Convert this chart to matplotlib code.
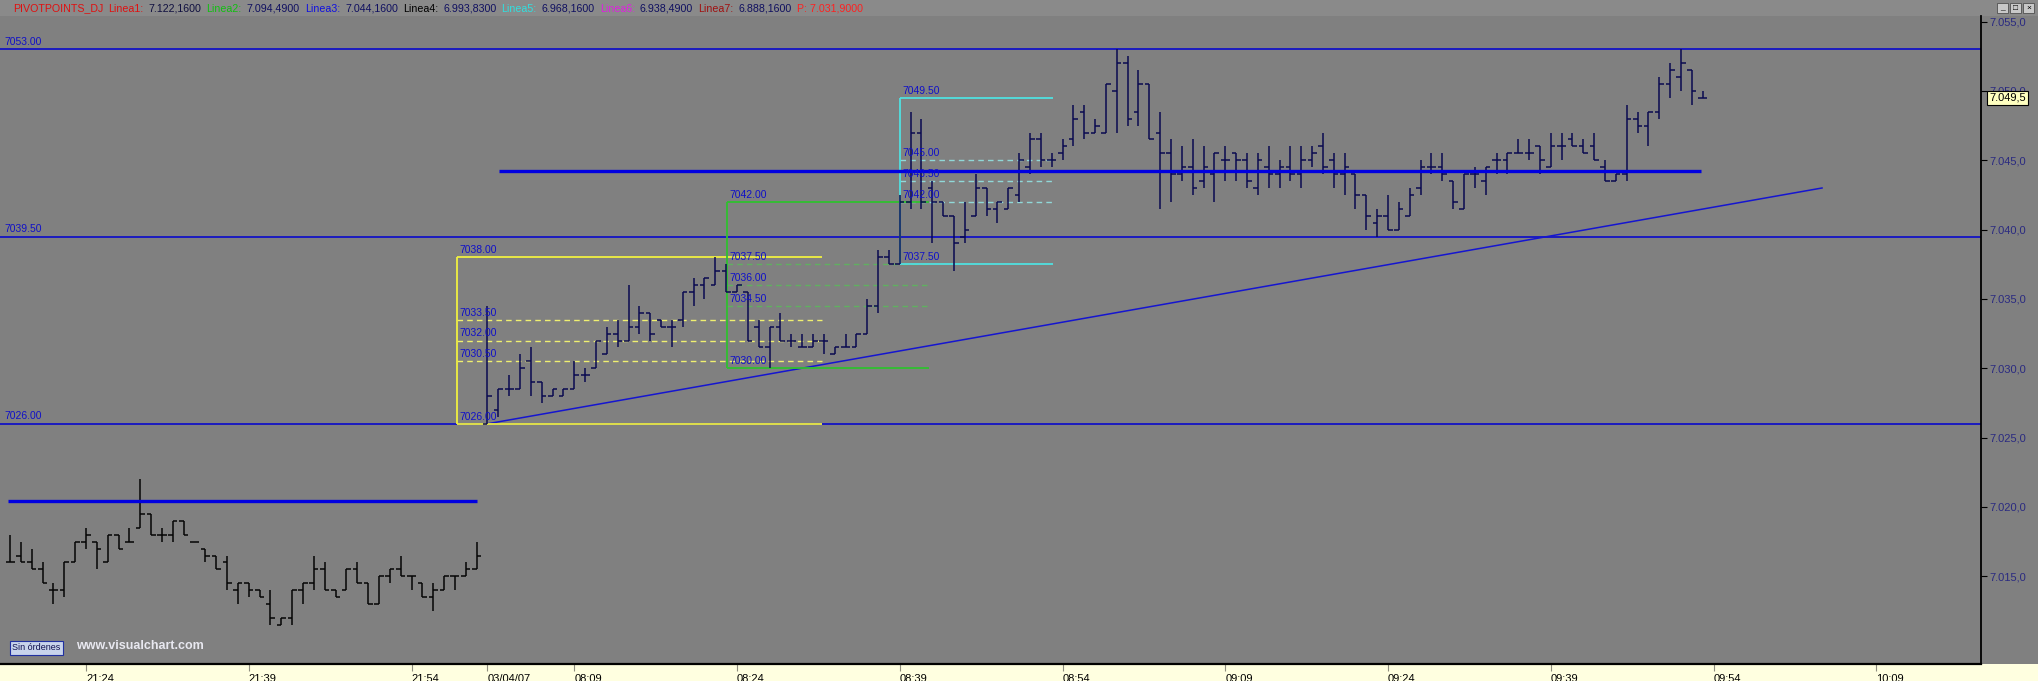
import matplotlib
matplotlib.use("Agg")
import matplotlib.pyplot as plt
from matplotlib.patches import Rectangle

plt.rcParams['font.family'] = ['Liberation Sans', 'DejaVu Sans']

W, H = 2038, 681

# one-minute OHLC bars, first bar sits at index -7 (21:17)
first_bar = -7
session_start = 37  # first bar of 03/04/07

opens = [7016, 7016.5, 7016, 7015.5, 7014, 7014, 7016, 7017.5, 7017.5, 7016,
         7018, 7017.5, 7018.5, 7019.5, 7018, 7018, 7019, 7017.5, 7017, 7016.5,
         7016, 7014, 7014.5, 7014, 7013, 7011.5, 7012, 7014, 7014.5, 7015.5,
         7014, 7014, 7015.5, 7014.5, 7013, 7015, 7015.5, 7015, 7014.5, 7013.5,
         7014, 7015, 7015, 7015.5,
         7026, 7027, 7028.5, 7028.5, 7030.5, 7029, 7028, 7028, 7028.5, 7029.5,
         7030, 7031, 7032.5, 7032, 7033, 7034, 7033.5, 7033, 7033.5, 7035.5,
         7036, 7036, 7037, 7035.5, 7035.5, 7033, 7031.5, 7033, 7032, 7031.5,
         7031.5, 7032, 7031, 7031.5, 7031.5, 7032.5, 7034.5, 7038, 7037.5, 7042,
         7047, 7043, 7042, 7041, 7039.5, 7041, 7043, 7041.5, 7041.5, 7042.5,
         7044.5, 7046.5, 7045, 7045.5, 7046.5, 7048.5, 7047, 7047, 7050, 7052,
         7048.5, 7050.5, 7047, 7045.5, 7044, 7044.5, 7043.5, 7044, 7045, 7045.5,
         7045, 7043, 7044.5, 7044, 7044.5, 7044, 7045, 7046, 7045, 7044,
         7044, 7042.5, 7040.5, 7041, 7040, 7041, 7043, 7044.5, 7044.5, 7043.5,
         7041.5, 7044, 7043.5, 7045, 7045, 7045.5, 7045.5, 7046, 7044.5, 7046,
         7046.5, 7046, 7046, 7044.5, 7043.5, 7044, 7048, 7047.5, 7048.5, 7050.5,
         7051, 7051.5, 7049.5]
highs = [7018, 7017.5, 7017, 7016, 7014.5, 7016, 7017.5, 7018.5, 7017.5, 7018,
         7018, 7018.5, 7022, 7019.5, 7018.5, 7019, 7019, 7017.5, 7017, 7016.5,
         7016.5, 7014.5, 7014.5, 7014, 7014, 7012, 7014, 7014.5, 7016.5, 7016,
         7014, 7015.5, 7016, 7014.5, 7015, 7015.5, 7016.5, 7015, 7014.5, 7014.5,
         7015, 7015, 7016, 7017.5,
         7034.5, 7028.5, 7029.5, 7031, 7031.5, 7029, 7028.5, 7028.5, 7030.5, 7030,
         7032, 7033, 7033.5, 7036, 7034.5, 7034, 7033.5, 7033.5, 7035.5, 7036.5,
         7036.5, 7038, 7037.5, 7036, 7035.5, 7033.5, 7033, 7034, 7032.5, 7032.5,
         7032.5, 7032.5, 7031.5, 7032.5, 7032.5, 7035, 7038.5, 7038.5, 7042.5, 7048.5,
         7048, 7043.5, 7042, 7041, 7042, 7044, 7043, 7042, 7043, 7045.5,
         7047, 7047, 7045.5, 7046.5, 7049, 7049, 7048, 7050.5, 7053, 7052.5,
         7051.5, 7050.5, 7048.5, 7046.5, 7046, 7046.5, 7046, 7045.5, 7046, 7045.5,
         7045.5, 7045.5, 7046, 7045, 7046, 7046, 7046, 7047, 7045.5, 7045.5,
         7044, 7042.5, 7041.5, 7042.5, 7042, 7043, 7045, 7045.5, 7045.5, 7043.5,
         7044, 7044.5, 7044.5, 7045.5, 7045.5, 7046.5, 7046.5, 7046, 7047, 7047,
         7047, 7046.5, 7047, 7045, 7044, 7049, 7048.5, 7048.5, 7051, 7052,
         7053, 7051.5, 7050]
lows = [7016, 7016, 7015.5, 7014.5, 7013, 7013.5, 7016, 7017, 7015.5, 7016,
        7017, 7017.5, 7018.5, 7018, 7017.5, 7017.5, 7018, 7017.5, 7016, 7015.5,
        7014, 7013, 7013.5, 7013.5, 7011.5, 7011.5, 7011.5, 7013, 7014, 7014,
        7013.5, 7014, 7014.5, 7013, 7013, 7014.5, 7015, 7014, 7013.5, 7012.5,
        7014, 7014, 7015, 7015.5,
        7026, 7026.5, 7028, 7028.5, 7028, 7027.5, 7028, 7028, 7028.5, 7029,
        7030, 7031, 7031.5, 7032, 7032.5, 7032, 7033, 7031.5, 7033, 7034.5,
        7035, 7036, 7035.5, 7035.5, 7032, 7031.5, 7030, 7032, 7031.5, 7031.5,
        7031.5, 7031, 7031, 7031.5, 7031.5, 7032.5, 7034, 7037.5, 7037.5, 7041.5,
        7041.5, 7039, 7041, 7037, 7039, 7041, 7041, 7040.5, 7041.5, 7042,
        7044, 7044.5, 7044.5, 7045, 7046, 7046.5, 7047, 7047, 7047, 7047.5,
        7047.5, 7046.5, 7041.5, 7042, 7043.5, 7042.5, 7043, 7042, 7043.5, 7043.5,
        7043, 7042.5, 7043, 7043, 7043.5, 7043, 7044.5, 7044, 7043, 7042.5,
        7041.5, 7040, 7039.5, 7040, 7040, 7041, 7042.5, 7044, 7043.5, 7041.5,
        7041.5, 7043, 7042.5, 7044, 7044, 7045.5, 7045, 7044, 7044.5, 7045,
        7046, 7045.5, 7045, 7043.5, 7043.5, 7043.5, 7047, 7046, 7048, 7049.5,
        7050, 7049, 7049.5]
closes = [7016, 7016, 7015.5, 7014.5, 7014, 7016, 7017.5, 7018, 7017, 7018,
          7017, 7017.5, 7019.5, 7018, 7018, 7019, 7018, 7017.5, 7016.5, 7015.5,
          7014.5, 7014.5, 7014, 7013.5, 7012, 7012, 7014, 7014.5, 7015.5, 7014,
          7013.5, 7015.5, 7014.5, 7013, 7015, 7015.5, 7015, 7015, 7013.5, 7014,
          7015, 7015, 7015.5, 7016.5,
          7028, 7028.5, 7028.5, 7030, 7029, 7028, 7028.5, 7028.5, 7029.5, 7029.5,
          7032, 7032.5, 7032, 7033, 7034, 7032.5, 7033, 7033, 7035.5, 7036,
          7036.5, 7037, 7035.5, 7036, 7032, 7031.5, 7033, 7032, 7032, 7031.5,
          7032, 7032, 7031.5, 7031.5, 7032.5, 7034.5, 7038, 7037.5, 7042, 7047,
          7042, 7042, 7041, 7039, 7040, 7043, 7041.5, 7042, 7043, 7045,
          7046.5, 7045, 7045, 7046, 7048, 7047, 7047.5, 7050.5, 7052, 7048,
          7050.5, 7046.5, 7045.5, 7044, 7044.5, 7043, 7044.5, 7045.5, 7045, 7045,
          7043.5, 7045, 7044, 7044.5, 7044, 7045, 7045.5, 7044.5, 7044, 7044.5,
          7042.5, 7041, 7041, 7040, 7041.5, 7042.5, 7044.5, 7044.5, 7044, 7042,
          7044, 7044, 7044.5, 7045, 7045.5, 7045.5, 7045.5, 7045, 7046, 7046,
          7046, 7045.5, 7045, 7043.5, 7044, 7048, 7047.5, 7048.5, 7050.5, 7051.5,
          7052, 7050, 7049.5]

tick_bars = [0, 15, 30, 37, 45, 60, 75, 90, 105, 120, 135, 150, 165]
tick_labels = ['21:24', '21:39', '21:54', '03/04/07', '08:09', '08:24', '08:39',
               '08:54', '09:09', '09:24', '09:39', '09:54', '10:09']
price_ticks = [7015, 7020, 7025, 7030, 7035, 7040, 7045, 7050, 7055]
last_price = 7049.5

# horizontal levels drawn across the whole chart
levels = [7053.0, 7039.5, 7026.0]
# thick hand-drawn lines: (price, from bar, to bar)
thick_lines = [(7020.4, -7.2, 36.0), (7044.25, 38.1, 148.8)]
trend_start = (37, 7026.0)
trend_end = (160, 7043.0)

# retracement boxes: left bar, right bar, levels top -> bottom
yellow_box = (34.2, 67.8, [7038.0, 7033.5, 7032.0, 7030.5, 7026.0])
green_box = (59.05, 77.7, [7042.0, 7037.5, 7036.0, 7034.5, 7030.0])
cyan_box = (75.0, 89.1, [7049.5, 7045.0, 7043.5, 7042.0, 7037.5])

header_parts = [('PIVOTPOINTS_DJ', '#e01010'), ('Linea1:', '#e01010'), ('7.122,1600', '#101040'),
                ('Linea2:', '#10c010'), ('7.094,4900', '#101060'),
                ('Linea3:', '#1010e0'), ('7.044,1600', '#101060'),
                ('Linea4:', '#000000'), ('6.993,8300', '#101060'),
                ('Linea5:', '#30e0e0'), ('6.968,1600', '#101060'),
                ('Linea6:', '#e020e0'), ('6.938,4900', '#101060'),
                ('Linea7:', '#a01010'), ('6.888,1600', '#101060'),
                ('P: 7.031,9000', '#ff2020')]

bg = '#808080'
label_blue = '#1010c8'


def fmt_es(v):
    return f'{v:,.1f}'.replace(',', '#').replace('.', ',').replace('#', '.')


fig = plt.figure(figsize=(W / 100, H / 100), dpi=100, facecolor=bg)
ax = fig.add_axes([0, 17 / H, 1981 / W, (664 - 16) / H])
ax.set_facecolor(bg)
ax.set_xlim(-7.93, 174.65)
ax.set_ylim(7008.68, 7055.40)

# bottom time strip and header strip
fig.patches.append(Rectangle((0, 0), 1, 17 / H, transform=fig.transFigure,
                             facecolor='#ffffe0', edgecolor='none', zorder=-5))
fig.patches.append(Rectangle((0, 1 - 16 / H), 1, 16 / H, transform=fig.transFigure,
                             facecolor='#8a8a8a', edgecolor='none', zorder=-5))

# level lines and labels
ax.hlines(levels, -7.93, 174.65, colors='#0000d0', lw=1.1, zorder=2)
for v in levels:
    ax.annotate(f'{v:.2f}', (-7.5, v), xytext=(0, 2), textcoords='offset points',
                color=label_blue, fontsize=7.5, va='bottom', ha='left')

# trend line
ax.plot([trend_start[0], trend_end[0]], [trend_start[1], trend_end[1]],
        color='#1515d0', lw=1.1, zorder=2)


def draw_box(box, solid, dashed):
    x0, x1, lv = box
    top, mids, bottom = lv[0], lv[1:-1], lv[-1]
    ax.hlines([top, bottom], x0, x1, colors=solid, lw=1.3, zorder=2.2)
    ax.vlines(x0, bottom, top, colors=solid, lw=1.3, zorder=2.2)
    ax.hlines(mids, x0, x1, colors=dashed, lw=1.0, linestyles=(0, (4, 3)), zorder=2.1)
    for v in lv:
        ax.annotate(f'{v:.2f}', (x0, v), xytext=(2, 1.5), textcoords='offset points',
                    color=label_blue, fontsize=7.5, va='bottom', ha='left', zorder=4)


draw_box(yellow_box, '#f0f040', '#f0f070')
draw_box(green_box, '#30c030', '#60b060')
draw_box(cyan_box, '#50e0e0', '#90d8d8')

# OHLC bars
x = list(range(first_bar, first_bar + len(opens)))
cols = ['#050505' if i < session_start else '#0a0a50' for i in x]
tw = 0.42
ax.vlines(x, lows, highs, colors=cols, lw=1.1, zorder=3)
ax.hlines(opens, [i - tw for i in x], x, colors=cols, lw=1.1, zorder=3)
ax.hlines(closes, x, [i + tw for i in x], colors=cols, lw=1.1, zorder=3)

for v, a, b in thick_lines:
    ax.hlines(v, a, b, colors='#0000e0', lw=2.4, zorder=3.5)

# axes decoration
for s in ['top', 'left']:
    ax.spines[s].set_visible(False)
ax.spines['right'].set_color('black')
ax.spines['right'].set_linewidth(1.3)
ax.spines['bottom'].set_color('black')
ax.spines['bottom'].set_linewidth(1.6)

ax.set_xticks(tick_bars)
ax.set_xticklabels(tick_labels, ha='left', fontsize=8, color='black')
ax.tick_params(axis='x', direction='out', length=5, color='#908f80', pad=2)
ax.yaxis.tick_right()
ax.set_yticks(price_ticks)
ax.set_yticklabels([fmt_es(v) for v in price_ticks], fontsize=8, color='#2a2a80')
ax.tick_params(axis='y', direction='out', length=4, color='black', pad=2)

# last price marker on the scale (sits over the 7.050,0 label, as in the original)
ax.text(1.004, last_price, fmt_es(last_price),
        transform=ax.get_yaxis_transform(), fontsize=8, color='black', va='center', ha='left',
        bbox=dict(boxstyle='square,pad=0.2', facecolor='#ffffc0', edgecolor='black', lw=0.8),
        clip_on=False, zorder=10)

# header legend, pieces chained left to right
renderer = fig.canvas.get_renderer()
xpos = 13
for s, c in header_parts:
    t = fig.text(xpos / W, 1 - 8.5 / H, s, color=c, fontsize=7.7, va='center', ha='left')
    xpos += t.get_window_extent(renderer).width + 5

# window buttons
for k, sym in enumerate(['_', '□', '×']):
    bx = 1997 + k * 13
    fig.patches.append(Rectangle((bx / W, 1 - 13 / H), 11 / W, 10 / H, transform=fig.transFigure,
                                 facecolor='#c8c8c8', edgecolor='#505050', lw=0.6, zorder=5))
    fig.text((bx + 5.5) / W, 1 - 8 / H, sym, fontsize=6, ha='center', va='center', zorder=6)

# footer tags inside the chart
fig.text(12 / W, 1 - 648 / H, 'Sin órdenes', fontsize=6.5, color='#101050', va='center',
         bbox=dict(boxstyle='square,pad=0.25', facecolor='#c8d4ec', edgecolor='#2030a0', lw=0.8))
fig.text(76 / W, 1 - 646 / H, 'www.visualchart.com', fontsize=9, color='#e8e8f0',
         fontweight='bold', va='center')

fig.savefig('out.png', dpi=100, facecolor=bg)
